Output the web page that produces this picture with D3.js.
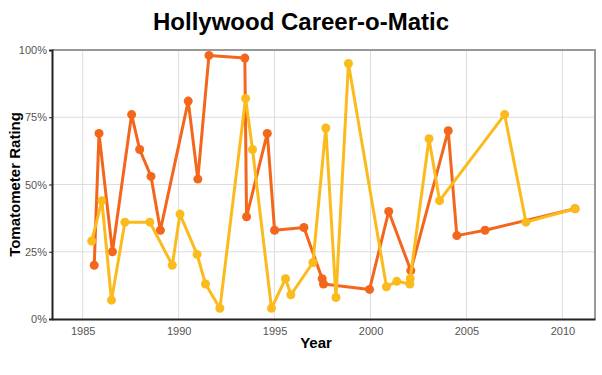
<!DOCTYPE html>
<html><head><meta charset="utf-8">
<script src="https://cdn.jsdelivr.net/npm/d3@7"></script>
<style>
body{margin:0;background:#fff;}
text{font-family:"Liberation Sans",Arial,Helvetica,sans-serif;}
</style></head>
<body><svg id="c" width="602" height="375"></svg>
<script>
const orangeYears = [1985.6,1985.85,1986.55,1987.55,1987.97,1988.56,1989.05,1990.5,1991.0,1991.58,1993.45,1993.54,1994.62,1995.0,1996.53,1997.48,1997.55,1999.95,2000.95,2002.1,2004.05,2004.5,2005.97,2010.66];
const orangeValues = [20,69,25,76,63,53,33,81,52,98,97,38,69,33,34,15,13,11,40,18,70,31,33,41];
const yellowYears = [1985.47,1986.0,1986.5,1987.2,1988.5,1989.67,1990.07,1990.96,1991.4,1992.15,1993.49,1993.85,1994.84,1995.57,1995.85,1997.0,1997.67,1998.2,1998.85,2000.83,2001.37,2002.05,2002.07,2003.05,2003.6,2006.99,2008.1,2010.66];
const yellowValues = [29,44,7,36,36,20,39,24,13,4,82,63,4,15,9,21,71,8,95,12,14,13,15,67,44,76,36,41];
const xTicks = [1985,1990,1995,2000,2005,2010];
const yTicks = [0,25,50,75,100];

const svg = d3.select("#c");
const L=52,R=595,T=50,B=319;
const x = d3.scaleLinear().domain([1983.4,2011.7]).range([L,R]);
const y = d3.scaleLinear().domain([0,100]).range([B,T]);

svg.append("text").attr("x",301).attr("y",30).attr("text-anchor","middle")
  .attr("font-size",24).attr("font-weight","bold").text("Hollywood Career-o-Matic");

// grid
svg.append("g").selectAll("line").data(xTicks).join("line")
  .attr("x1",d=>x(d)).attr("x2",d=>x(d)).attr("y1",T).attr("y2",B)
  .attr("stroke","#ddd").attr("stroke-width",1);
svg.append("g").selectAll("line").data(yTicks.filter(d=>d>0&&d<100)).join("line")
  .attr("x1",L).attr("x2",R).attr("y1",d=>y(d)).attr("y2",d=>y(d))
  .attr("stroke","#ddd").attr("stroke-width",1);

// top/right border
svg.append("path").attr("d",`M${L},${T}H${R}V${B}`).attr("fill","none").attr("stroke","#999").attr("stroke-width",2);

// axes
const xa = svg.append("g").attr("transform",`translate(0,${B})`)
  .call(d3.axisBottom(x).tickValues(xTicks).tickFormat(d3.format("d")).tickSize(0).tickPadding(8));
const ya = svg.append("g").attr("transform",`translate(${L},0)`)
  .call(d3.axisLeft(y).tickValues(yTicks).tickFormat(d=>d+"%").tickSize(3).tickPadding(2));
[xa,ya].forEach(a=>{
  a.select(".domain").attr("stroke","#222").attr("stroke-width",2);
  a.selectAll(".tick line").attr("stroke","#222");
  a.selectAll("text").attr("font-size",11).attr("fill","#555").attr("font-family","Liberation Sans, Arial, sans-serif");
});

svg.append("text").attr("x",316).attr("y",348).attr("text-anchor","middle")
  .attr("font-size",15).attr("font-weight","bold").text("Year");
svg.append("text").attr("transform",`translate(20,${(T+B)/2}) rotate(-90)`).attr("text-anchor","middle")
  .attr("font-size",15).attr("font-weight","bold").text("Tomatometer Rating");

function series(years, vals, color){
  const pts = years.map((d,i)=>[d,vals[i]]);
  const line = d3.line().x(d=>x(d[0])).y(d=>y(d[1]));
  svg.append("path").attr("d",line(pts)).attr("fill","none").attr("stroke",color)
    .attr("stroke-width",3).attr("stroke-linejoin","round");
  svg.append("g").selectAll("circle").data(pts).join("circle")
    .attr("cx",d=>x(d[0])).attr("cy",d=>y(d[1])).attr("r",4.5).attr("fill",color);
}
series(orangeYears, orangeValues, "#f4661c");
series(yellowYears, yellowValues, "#fbbb1d");
</script></body></html>
